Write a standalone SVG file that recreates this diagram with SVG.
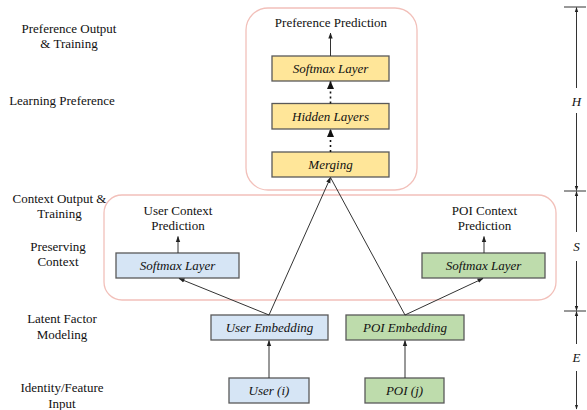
<svg xmlns="http://www.w3.org/2000/svg" width="587" height="410" viewBox="0 0 587 410">
<defs>
<marker id="ah" markerWidth="6" markerHeight="6" refX="5.5" refY="3" orient="auto" markerUnits="userSpaceOnUse">
<path d="M0,0.8 L6,3 L0,5.2 Z" fill="#222"/>
</marker>
<marker id="ahb" markerWidth="8" markerHeight="8" refX="7.5" refY="4" orient="auto" markerUnits="userSpaceOnUse">
<path d="M0,0.5 L8,4 L0,7.5 Z" fill="#111"/>
</marker>
<marker id="ahs" markerWidth="5" markerHeight="5" refX="4.5" refY="2.5" orient="auto" markerUnits="userSpaceOnUse">
<path d="M0,0.8 L5,2.5 L0,4.2 Z" fill="#222"/>
</marker>
</defs>
<style>
text{font-family:"Liberation Serif","Times New Roman",serif;font-size:13px;fill:#111;}
.c{text-anchor:middle;}
.i{font-style:italic;}
.grp{fill:none;stroke:#F2C0BA;stroke-width:1.3;}
.y{fill:#FFE699;stroke:#595959;stroke-width:1.3;}
.b{fill:#D6E5F5;stroke:#595959;stroke-width:1.3;}
.g{fill:#BEDCAC;stroke:#595959;stroke-width:1.3;}
.ln{fill:none;stroke:#333;stroke-width:1;}
.dot{fill:none;stroke:#111;stroke-width:1.6;stroke-dasharray:2 3;}
.dim{fill:none;stroke:#333;stroke-width:1;}
</style>

<g id="left-labels">
<text class="c" x="69" y="32.5">Preference Output</text>
<text class="c" x="69" y="47.5">&amp; Training</text>
<text class="c" x="62" y="105">Learning Preference</text>
<text class="c" x="59.5" y="203">Context Output &amp;</text>
<text class="c" x="59.5" y="218">Training</text>
<text class="c" x="58" y="251">Preserving</text>
<text class="c" x="58" y="266">Context</text>
<text class="c" x="62" y="323">Latent Factor</text>
<text class="c" x="62" y="338.5">Modeling</text>
<text class="c" x="62" y="392">Identity/Feature</text>
<text class="c" x="62" y="408">Input</text>
</g>

<g id="preference-group">
<rect class="grp" x="246" y="8" width="171" height="182" rx="22"/>
<text class="c" x="331" y="27">Preference Prediction</text>
</g>

<g id="context-group">
<rect class="grp" x="104" y="195" width="452" height="105" rx="18"/>
<text class="c" x="178" y="214.5">User Context</text>
<text class="c" x="178" y="229.5">Prediction</text>
<text class="c" x="484.5" y="214.5">POI Context</text>
<text class="c" x="484.5" y="229.5">Prediction</text>
</g>

<g id="softmax-pref">
<rect class="y" x="272" y="56" width="117" height="25"/>
<text class="c i" x="330.5" y="73">Softmax Layer</text>
</g>
<g id="hidden-layers">
<rect class="y" x="272" y="103.5" width="117" height="25.5"/>
<text class="c i" x="330.5" y="121">Hidden Layers</text>
</g>
<g id="merging">
<rect class="y" x="272" y="152" width="117" height="25"/>
<text class="c i" x="330.5" y="169">Merging</text>
</g>

<g id="softmax-user">
<rect class="b" x="116" y="253" width="123" height="25"/>
<text class="c i" x="177.5" y="270">Softmax Layer</text>
</g>
<g id="softmax-poi">
<rect class="g" x="422" y="253" width="123" height="25"/>
<text class="c i" x="483.5" y="270">Softmax Layer</text>
</g>

<g id="user-embedding">
<rect class="b" x="211" y="315" width="117" height="25"/>
<text class="c i" x="269.5" y="332">User Embedding</text>
</g>
<g id="poi-embedding">
<rect class="g" x="346" y="315" width="118" height="25"/>
<text class="c i" x="405" y="332">POI Embedding</text>
</g>

<g id="user-input">
<rect class="b" x="229" y="378" width="80" height="25"/>
<text class="c i" x="269" y="395">User (i)</text>
</g>
<g id="poi-input">
<rect class="g" x="365" y="378" width="79" height="25"/>
<text class="c i" x="404.5" y="395">POI (j)</text>
</g>

<g id="connectors">
<line class="ln" x1="330.5" y1="56" x2="330.5" y2="33" marker-end="url(#ah)"/>
<line class="dot" x1="330.5" y1="103.5" x2="330.5" y2="81.5" marker-end="url(#ahb)"/>
<line class="dot" x1="330.5" y1="152" x2="330.5" y2="129.5" marker-end="url(#ahb)"/>
<line class="ln" x1="178" y1="253" x2="178" y2="236.5" marker-end="url(#ah)"/>
<line class="ln" x1="484" y1="253" x2="484" y2="236.5" marker-end="url(#ah)"/>
<line class="ln" x1="269" y1="378" x2="269" y2="340.5" marker-end="url(#ah)"/>
<line class="ln" x1="405" y1="378" x2="405" y2="340.5" marker-end="url(#ah)"/>
<line class="ln" x1="269" y1="315" x2="179" y2="278.5" marker-end="url(#ah)"/>
<line class="ln" x1="269" y1="315" x2="330.5" y2="177.5" marker-end="url(#ah)"/>
<line class="ln" x1="405" y1="315" x2="330.5" y2="177.5"/>
<line class="ln" x1="405" y1="315" x2="483" y2="278.5" marker-end="url(#ah)"/>
</g>

<g id="dimension-bar">
<line class="dim" x1="564" y1="7" x2="586" y2="7"/>
<line class="dim" x1="564" y1="191" x2="586" y2="191"/>
<line class="dim" x1="564" y1="311" x2="586" y2="311"/>
<line class="dim" x1="576.5" y1="88" x2="576.5" y2="7.5" marker-end="url(#ahs)"/>
<line class="dim" x1="576.5" y1="113" x2="576.5" y2="190.5" marker-end="url(#ahs)"/>
<line class="dim" x1="576.5" y1="232" x2="576.5" y2="191.5" marker-end="url(#ahs)" stroke="#777"/>
<line class="dim" x1="576.5" y1="261" x2="576.5" y2="310.5" marker-end="url(#ahs)"/>
<line class="dim" x1="576.5" y1="344" x2="576.5" y2="311.5" marker-end="url(#ahs)"/>
<line class="dim" x1="576.5" y1="371" x2="576.5" y2="409" marker-end="url(#ahs)"/>
<text class="c i" x="576.5" y="106">H</text>
<text class="c i" x="576.5" y="250.5">S</text>
<text class="c i" x="576.5" y="362">E</text>
</g>
</svg>
